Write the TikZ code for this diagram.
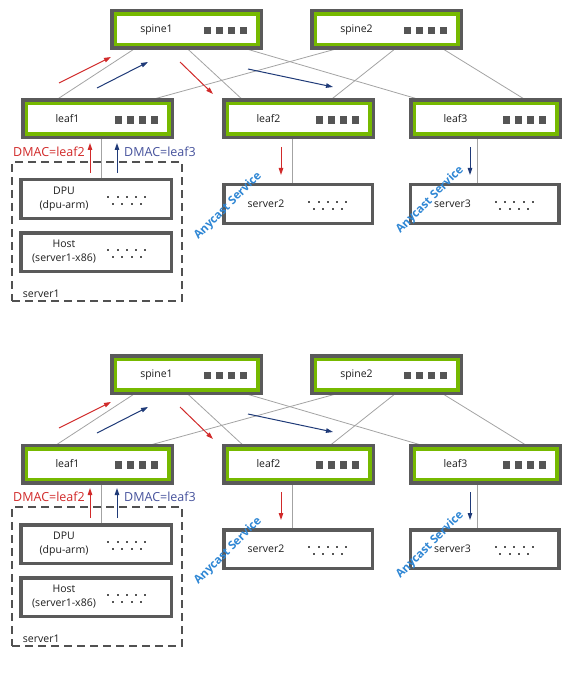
\documentclass[tikz,border=0pt]{standalone}
\usepackage{fontspec}
\setmainfont{Open Sans}
\usetikzlibrary{arrows.meta,backgrounds}

\definecolor{nvgreen}{HTML}{76B900}
\definecolor{boxgray}{HTML}{5A5A5A}
\definecolor{linkgray}{HTML}{A3A3A3}
\definecolor{portgray}{HTML}{555555}
\definecolor{txtgray}{HTML}{1E1E1E}
\definecolor{flowred}{HTML}{D12A2A}
\definecolor{flowblue}{HTML}{1F3A78}
\definecolor{dmacblue}{HTML}{46529C}
\definecolor{anyblue}{HTML}{2E86D4}

\begin{document}
\begin{tikzpicture}[
  x=1pt, y=-1pt,
  boxname/.style={font=\fontsize{10.5}{14}\selectfont, text=txtgray, xshift=-30pt, align=center},
  switch/.style={draw=nvgreen, line width=3.5pt, fill=white,
                 preaction={draw=boxgray, line width=10.5pt},
                 minimum width=142.5pt, minimum height=30.5pt, inner sep=0pt,
                 label={[boxname]center:#1},
                 path picture={
                   \foreach \k in {0,...,3}
                     \fill[portgray] ([xshift={(-54.25+12*\k)*1pt}, yshift=-1pt]path picture bounding box.east)
                       ++(0,-3.75) rectangle ++(7.5,7.5);
                 }},
  host/.style={draw=boxgray, line width=3.5pt, fill=white,
               minimum height=38.5pt, inner sep=0pt,
               label={[boxname, xshift=-2pt]center:#1},
               path picture={
                 \foreach \k in {0,...,4}
                   \fill[portgray] ([xshift={(-64+9.3*\k)*1pt}, yshift=3pt]path picture bounding box.east)
                     rectangle ++(2,2);
                 \foreach \k in {0,...,3}
                   \fill[portgray] ([xshift={(-59.35+9.3*\k)*1pt}, yshift=-4pt]path picture bounding box.east)
                     rectangle ++(2,2);
               }},
  link/.style={linkgray, line width=0.8pt},
  flow/.style={-{Triangle[length=7pt, width=4.5pt]}, line width=1pt},
  dmac/.style={font=\fontsize{12.5}{14}\selectfont, inner sep=1pt},
  anycast/.style={font=\bfseries\fontsize{11.5}{13}\selectfont, text=anyblue, rotate=45},
]
\useasboundingbox (0,0) rectangle (578,676);

\foreach \h/\dy in {a/0, b/345} {
\begin{scope}[yshift={-\dy pt}]

% === switches ===
\node[switch=spine1] (spine1-\h) at (186.5, 29.5) {};
\node[switch=spine2] (spine2-\h) at (386.5, 29.5) {};
\node[switch=leaf1] (leaf1-\h) at (97.5, 119) {};
\node[switch=leaf2] (leaf2-\h) at (298.5, 119) {};
\node[switch=leaf3] (leaf3-\h) at (485.5, 119) {};

% === server1 with DPU and host ===
\node[draw=boxgray!90!black, line width=1.2pt, dash pattern=on 8pt off 5pt,
      minimum width=170pt, minimum height=139pt,
      label={[anchor=south west, font=\fontsize{10.5}{12}\selectfont, text=txtgray,
              xshift=8pt, yshift=0pt]south west:server1}]
  (server1-\h) at (97, 231.5) {};
\node[host={DPU\\(dpu-arm)}, minimum width=150.5pt] (dpu-\h) at (96, 199) {};
\node[host={Host\\(server1-x86)}, minimum width=150.5pt] (x86-\h) at (96, 252) {};

% === servers ===
\node[host=server2, minimum width=148.5pt] (server2-\h) at (298, 204) {};
\node[host=server3, minimum width=148.5pt] (server3-\h) at (484.5, 204) {};

% === links ===
\begin{scope}[on background layer]
\draw[link] ([xshift=-48.5pt]spine1-\h.south) -- ([xshift=-44.5pt]leaf1-\h.north);
\draw[link] ([xshift=-1.5pt]spine1-\h.south) -- ([xshift=-53.5pt]leaf2-\h.north);
\draw[link] ([xshift=51.5pt]spine1-\h.south) -- ([xshift=-57.5pt]leaf3-\h.north);
\draw[link] ([xshift=-41.5pt]spine2-\h.south) -- ([xshift=45.5pt]leaf1-\h.north);
\draw[link] ([xshift=11.5pt]spine2-\h.south) -- ([xshift=29.5pt]leaf2-\h.north);
\draw[link] ([xshift=52.5pt]spine2-\h.south) -- ([xshift=43.5pt]leaf3-\h.north);
\draw[link] ([xshift=3.5pt]leaf1-\h.south) -- ([xshift=5pt]dpu-\h.north);
\draw[link] ([xshift=-6.5pt]leaf2-\h.south) -- ([xshift=-6pt]server2-\h.north);
\draw[link] ([xshift=-8.5pt]leaf3-\h.south) -- ([xshift=-7.5pt]server3-\h.north);
\end{scope}

% === traffic ===
\draw[flow, flowred] (59, 83) -- (111, 57);
\draw[flow, flowblue] (97, 88) -- (148, 62);
\draw[flow, flowred] (180, 62) -- (213, 94);
\draw[flow, flowblue] (248, 69) -- (333, 87);
\draw[flow, flowred] (90, 173) -- (90, 143);
\draw[flow, flowblue] (117, 173) -- (117, 143);
\draw[flow, flowred] (281, 147) -- (281, 175);
\draw[flow, flowblue] (470, 147) -- (470, 175);

\node[dmac, text=flowred, anchor=east] (dmac2-\h) at (86, 152) {DMAC=leaf2};
\node[dmac, text=dmacblue, anchor=west] (dmac3-\h) at (123, 152) {DMAC=leaf3};

\node[anycast] (any2-\h) at (228, 206) {Anycast Service};
\node[anycast] (any3-\h) at (430, 200) {Anycast Service};

\end{scope}
}
\end{tikzpicture}
\end{document}
